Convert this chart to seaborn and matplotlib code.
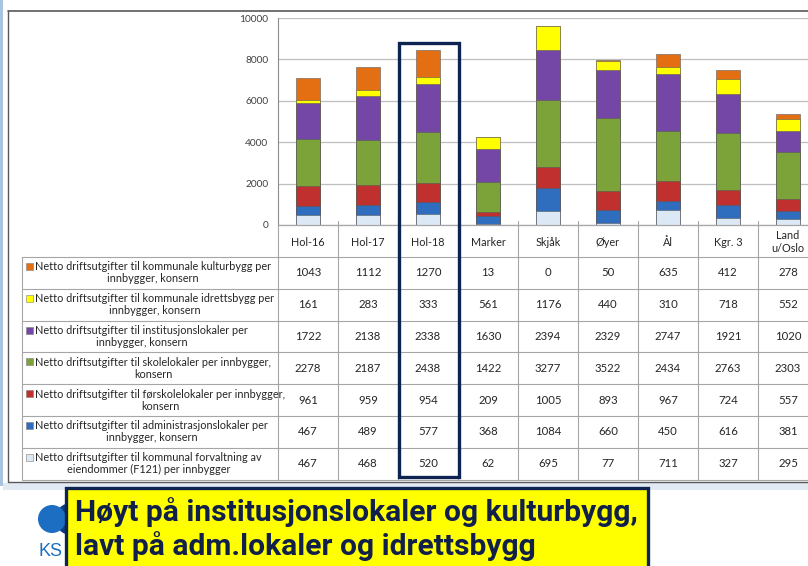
import numpy as np
import pandas as pd
import matplotlib.pyplot as plt
import seaborn as sns
from matplotlib.patches import Rectangle, Circle

# data
cats = ["Hol-16", "Hol-17", "Hol-18", "Marker", "Skjåk", "Øyer", "Ål", "Kgr. 3", "Land\nu/Oslo"]
kultur = [1043, 1112, 1270, 13, 0, 50, 635, 412, 278]
idrett = [161, 283, 333, 561, 1176, 440, 310, 718, 552]
institusjon = [1722, 2138, 2338, 1630, 2394, 2329, 2747, 1921, 1020]
skole = [2278, 2187, 2438, 1422, 3277, 3522, 2434, 2763, 2303]
forskole = [961, 959, 954, 209, 1005, 893, 967, 724, 557]
adm = [467, 489, 577, 368, 1084, 660, 450, 616, 381]
forvaltning = [467, 468, 520, 62, 695, 77, 711, 327, 295]

labels = [
    "Netto driftsutgifter til kommunale kulturbygg per\ninnbygger, konsern",
    "Netto driftsutgifter til kommunale idrettsbygg per\ninnbygger, konsern",
    "Netto driftsutgifter til institusjonslokaler per\ninnbygger, konsern",
    "Netto driftsutgifter til skolelokaler per innbygger,\nkonsern",
    "Netto driftsutgifter til førskolelokaler per innbygger,\nkonsern",
    "Netto driftsutgifter til administrasjonslokaler per\ninnbygger, konsern",
    "Netto driftsutgifter til kommunal forvaltning av\neiendommer (F121) per innbygger",
]
colors = ["#E46F12", "#FFFF00", "#7446A6", "#7BA33A", "#C0302E", "#2F6DBF", "#DDE8F5"]

# table order = top of stack first
series = [kultur, idrett, institusjon, skole, forskole, adm, forvaltning]

sns.set_style("white")
plt.rcParams["font.family"] = ["Lato", "DejaVu Sans"]

W, H = 808, 566
fig = plt.figure(figsize=(W / 100, H / 100), dpi=100)

# pixel layout
x0, colw = 278, 60
y_zero, y_top = 225, 18

ax = fig.add_axes([x0 / W, (H - y_zero) / H, 9 * colw / W, (y_zero - y_top) / H])

# stacked bars: draw cumulative totals from the top layer down
bottom_first = series[::-1]
bottom_cols = colors[::-1]
cum = np.cumsum(np.array(bottom_first), axis=0)
for k in range(len(bottom_first) - 1, -1, -1):
    df = pd.DataFrame({"cat": cats, "val": cum[k]})
    sns.barplot(data=df, x="cat", y="val", color=bottom_cols[k], saturation=1,
                width=0.41, edgecolor="#5a5a5a", linewidth=0.4, ax=ax, zorder=3)

ax.set_xlim(-0.5, 8.5)
ax.set_ylim(0, 10000)
ax.set_yticks(range(0, 10001, 2000))
ax.yaxis.grid(True, color="#BFBFBF", lw=0.9)
ax.set_axisbelow(True)
ax.set_xticks([])
ax.set_xlabel("")
ax.set_ylabel("")
for s in ["top", "right", "bottom"]:
    ax.spines[s].set_visible(False)
ax.spines["left"].set_color("#8C8C8C")
ax.tick_params(axis="y", length=4, color="#8C8C8C", labelsize=7.3, labelcolor="#404040", pad=3)

# overlay in pixel coordinates for table, frame and slide bits
ov = fig.add_axes([0, 0, 1, 1])
ov.set_xlim(0, W)
ov.set_ylim(H, 0)
ov.axis("off")
ov.patch.set_alpha(0)

gc = "#A6A6A6"
# slide edge and frame
ov.add_patch(Rectangle((0, 0), 3, 486, color="#A9C3E0", lw=0))
ov.add_patch(Rectangle((3, 483), W, 7, color="#E1E9F2", lw=0))
ov.plot([8, W], [11, 11], color="#595959", lw=1.2)
ov.plot([8, 8], [11, 482], color="#595959", lw=1.0)
ov.plot([8, W], [482, 482], color="#595959", lw=1.0)

# table grid
row_top, row_h = 257, 31.8
ov.plot([x0, W], [y_zero, y_zero], color=gc, lw=0.9)
for r in range(8):
    y = row_top + r * row_h
    ov.plot([22, W], [y, y], color=gc, lw=0.8)
ov.plot([22, 22], [row_top, row_top + 7 * row_h], color=gc, lw=0.8)
for i in range(10):
    x = x0 + i * colw
    ov.plot([x, x], [y_zero - 4 if i else y_zero, row_top + 7 * row_h], color=gc, lw=0.8)

# header labels
for i, c in enumerate(cats):
    ov.text(x0 + (i + 0.5) * colw, (y_zero + row_top) / 2 + 1, c, ha="center", va="center",
            fontsize=7.8, color="#262626", linespacing=1.15)

# rows
for r, (lab, col, vals) in enumerate(zip(labels, colors, series)):
    yc = row_top + (r + 0.5) * row_h
    ov.add_patch(Rectangle((26, yc - 10), 7, 7, facecolor=col, edgecolor="#7f7f7f", lw=0.4))
    ov.text(35, yc, lab, ha="left", va="center", multialignment="center",
            fontsize=7.8, color="#262626", linespacing=1.1)
    for i, v in enumerate(vals):
        ov.text(x0 + (i + 0.5) * colw, yc, str(v), ha="center", va="center",
                fontsize=8.2, color="#262626")

# highlight box around Hol-18
ov.add_patch(Rectangle((x0 + 2 * colw + 1, 43), colw, 434, fill=False,
                       edgecolor="#0D2452", lw=2.4, zorder=5))

# KS logo
ov.add_patch(Circle((71, 519), 16, color="#0E3D7A", lw=0))
ov.add_patch(Circle((52, 519), 14, color="#1B6EC2", lw=0))
ov.text(51, 551, "KS", ha="center", va="center", fontsize=13, color="#1B6EC2",
        family=["Liberation Sans", "DejaVu Sans"])

# yellow callout
ov.add_patch(Rectangle((66, 488), 582, 100, facecolor="#FFFF00", edgecolor="#0D2452", lw=2.4, zorder=6))
ov.text(75, 529, "Høyt på institusjonslokaler og kulturbygg,\nlavt på adm.lokaler og idrettsbygg",
        ha="left", va="center", fontsize=21.6, fontweight="bold", color="#10204A",
        linespacing=1.14, zorder=7, family=["Roboto", "DejaVu Sans"])

fig.savefig("out.png", dpi=100)
